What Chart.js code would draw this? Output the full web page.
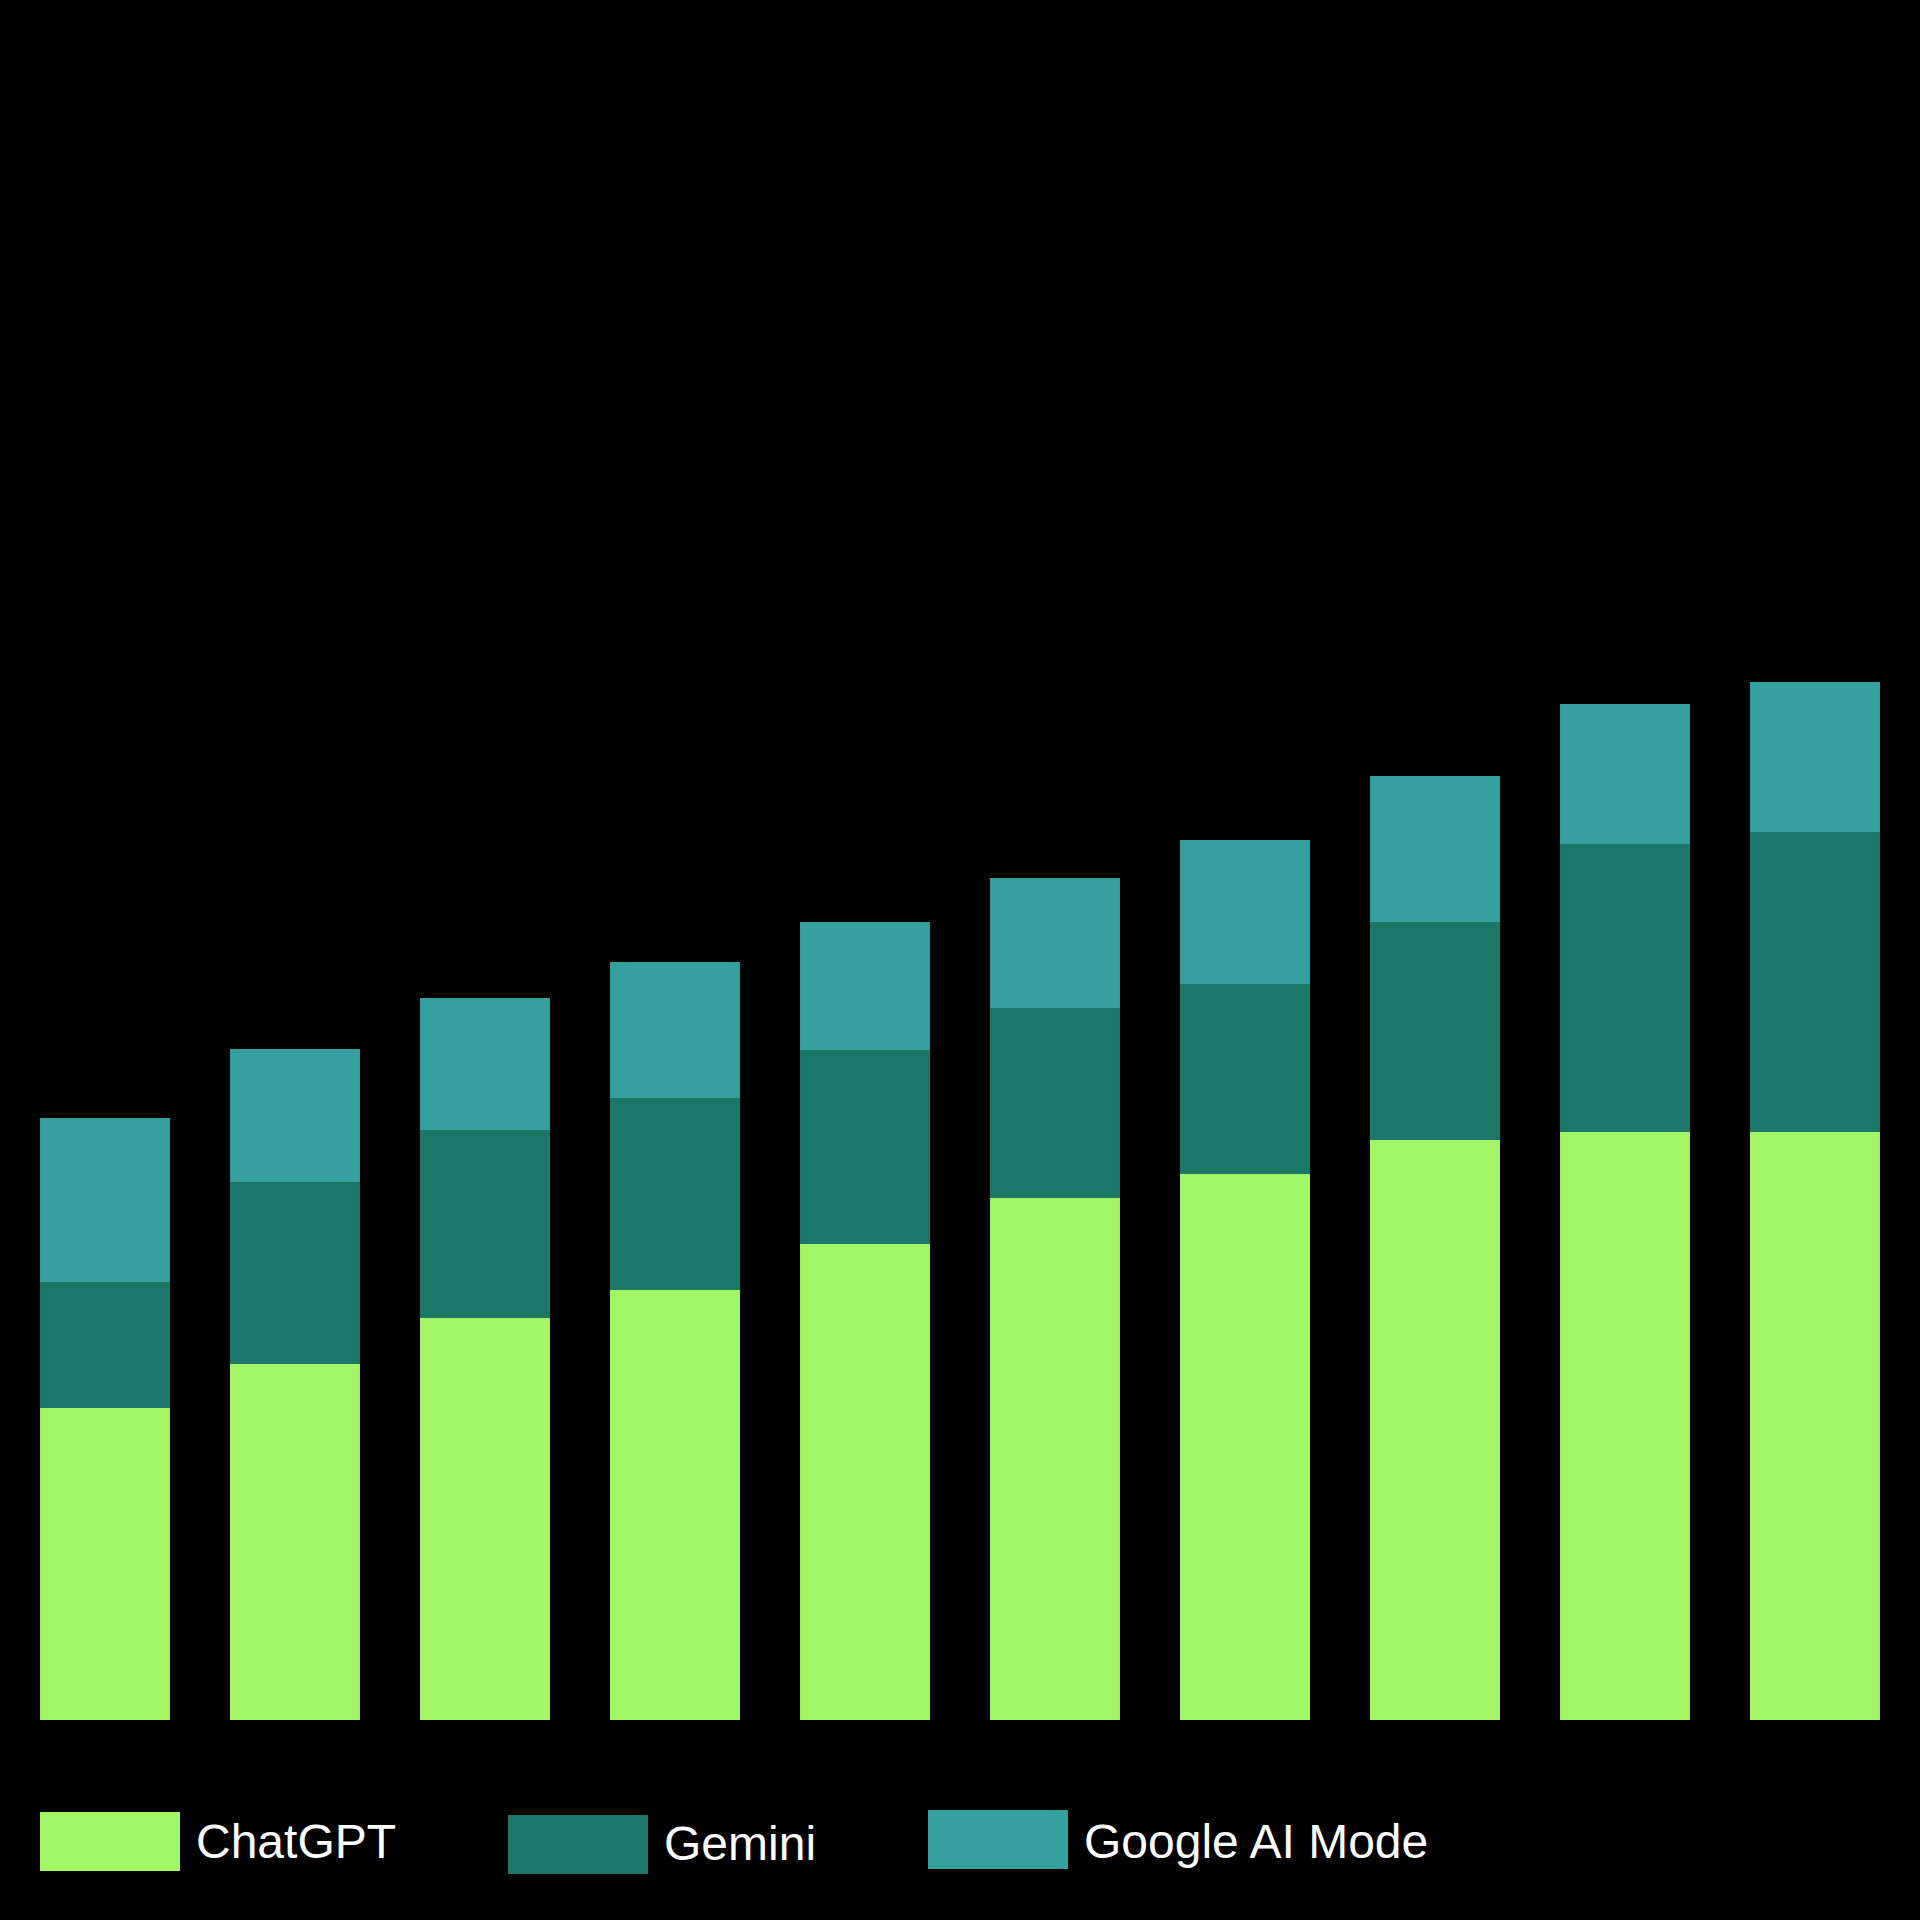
<!DOCTYPE html>
<html>
<head>
<meta charset="utf-8">
<script src="https://cdn.jsdelivr.net/npm/chart.js@4"></script>
<style>
  html, body { margin: 0; padding: 0; background: #000; }
  #wrap { position: relative; width: 1920px; height: 1920px; background: #000; overflow: hidden; }
  #chart { position: absolute; left: 0; top: 0; }
  .legend-box { position: absolute; width: 140px; height: 59px; }
  .legend-text {
    position: absolute; color: #fff; white-space: nowrap;
    font-family: "Liberation Sans", Arial, sans-serif; font-size: 48px; line-height: 48px;
  }
</style>
</head>
<body>
<div id="wrap">
  <canvas id="chart" width="1920" height="1720"></canvas>
</div>
<script>
// ten periods, no axis labels shown in the original
const categories = ['1', '2', '3', '4', '5', '6', '7', '8', '9', '10'];

const seriesNames = ['ChatGPT', 'Gemini', 'Google AI Mode'];
const seriesColors = ['#a3f566', '#1b7868', '#35a09e'];

// values (relative units, chart height = 1720)
const chatgpt = [312, 356, 402, 430, 476, 522, 546, 580, 588, 588];
const gemini = [126, 182, 188, 192, 194, 190, 190, 218, 288, 300];
const aiMode = [164, 133, 132, 136, 128, 130, 144, 146, 140, 150];

const yMax = 1720;

const seriesData = [chatgpt, gemini, aiMode];

const datasets = seriesNames.map((name, i) => {
    return {
        label: name,
        data: seriesData[i],
        backgroundColor: seriesColors[i],
        borderWidth: 0,
        barPercentage: 0.684,
        categoryPercentage: 1.0
    }
});

new Chart(document.getElementById('chart'), {
    type: 'bar',
    data: {
        labels: categories,
        datasets: datasets
    },
    options: {
        responsive: false,
        maintainAspectRatio: false,
        animation: false,
        devicePixelRatio: 1,
        layout: {
            padding: { left: 10, right: 10, top: 0, bottom: 0 }
        },
        scales: {
            x: { stacked: true, display: false },
            y: { stacked: true, display: false, min: 0, max: yMax }
        },
        plugins: {
            legend: { display: false },
            tooltip: { enabled: false }
        }
    }
});

// legend below the plot, built from the same names and colours
const wrap = document.getElementById('wrap');
const legendBoxX = [40, 508, 928];
const legendBoxY = [1812, 1815, 1810];
const legendTextY = [1818, 1820, 1818];

seriesNames.forEach((name, i) => {
    const box = document.createElement('div');
    box.className = 'legend-box';
    box.style.left = legendBoxX[i] + 'px';
    box.style.top = legendBoxY[i] + 'px';
    box.style.background = seriesColors[i];
    wrap.appendChild(box);

    const text = document.createElement('div');
    text.className = 'legend-text';
    text.style.left = (legendBoxX[i] + 156) + 'px';
    text.style.top = legendTextY[i] + 'px';
    text.textContent = name;
    wrap.appendChild(text);
});
</script>
</body>
</html>
